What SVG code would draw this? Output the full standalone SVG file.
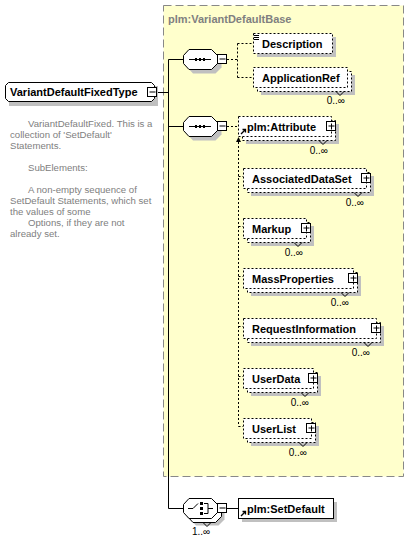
<svg xmlns="http://www.w3.org/2000/svg" width="409" height="540" viewBox="0 0 409 540">
<style>
.sh{fill:#c0c0c0}
.box{fill:#fff;stroke:#000;stroke-width:1}
.dbox{fill:#fff;stroke:#000;stroke-width:1;stroke-dasharray:2,2}
.ln{fill:none;stroke:#000;stroke-width:1}
.dl{fill:none;stroke:#000;stroke-width:1;stroke-dasharray:2,2}
.lbl{font-family:"Liberation Sans",Arial,sans-serif;font-size:11px;font-weight:bold;fill:#000}
.occ{font-family:"Liberation Sans",Arial,sans-serif;font-size:10px;fill:#000}
.desc{font-family:"Liberation Sans",Arial,sans-serif;font-size:9.6px;fill:#808080}
.title{font-family:"Liberation Sans",Arial,sans-serif;font-size:11px;font-weight:bold;fill:#808080}
</style>
<defs>
<g id="plus"><rect class="box" x="0.5" y="0.5" width="9" height="9"/><path class="ln" d="M2.5 5H8.5M5.5 2.5V8.5"/></g>
<g id="minus"><rect class="box" x="0.5" y="0.5" width="9" height="9"/><path class="ln" d="M2.5 5H8.5"/></g>
<path id="ref" d="M1 6L5 2M2.5 1.5H5.5V4.5" fill="none" stroke="#000" stroke-width="1.3"/>
<path id="oct" d="M6 0.5H28.5L34.5 6.5V14.5L28.5 20.5H6L0.5 14.5V6.5Z"/>
</defs>

<g id="base-group">
<rect x="163.5" y="5.5" width="240" height="471" fill="#ffffcc" stroke="#888" stroke-dasharray="8,4"/>
<text class="title" x="168" y="23">plm:VariantDefaultBase</text>
</g>

<g id="connectors">
<path class="ln" d="M157 92.5H168.5M168.5 59.5V508.5M168.5 59.5H183M168.5 126.5H183M168.5 508.5H183"/>
<path class="dl" d="M227 59.5H237.5M237.5 43.5V77.5M237.5 43.5H253M237.5 77.5H253"/>
<path class="dl" d="M227 126.5H238"/>
<path class="dl" d="M238.5 142V426.5M238.5 176.5H243M238.5 226.5H243M238.5 276.5H243M238.5 326.5H243M238.5 376.5H243M238.5 426.5H243"/>
<path d="M238.5 137L236 142H241Z" fill="#000"/>
<path class="ln" d="M227 508.5H238"/>
</g>

<g id="root">
<path class="sh" d="M12 86H158V106H9V89Z"/>
<path class="box" d="M8.5 82.5H151.5L154.5 85.5V98.5L151.5 101.5H8.5L5.5 98.5V85.5Z"/>
<text class="lbl" x="10" y="96">VariantDefaultFixedType</text>
<use href="#minus" x="147" y="87"/>
</g>

<g id="description-text">
<text class="desc" x="28" y="127">VariantDefaultFixed. This is a</text>
<text class="desc" x="10" y="138">collection of 'SetDefault'</text>
<text class="desc" x="10" y="149">Statements.</text>
<text class="desc" x="28" y="171">SubElements:</text>
<text class="desc" x="28" y="193">A non-empty sequence of</text>
<text class="desc" x="10" y="204">SetDefault Statements, which set</text>
<text class="desc" x="10" y="215">the values of some</text>
<text class="desc" x="28" y="226">Options, if they are not</text>
<text class="desc" x="10" y="237">already set.</text>
</g>

<g id="seq1">
<use href="#oct" class="sh" x="187" y="53"/>
<use href="#oct" class="box" x="183" y="49"/>
<path class="ln" d="M189 59.5H211"/>
<path d="M195 58h2v3h-2zM199 58h2v3h-2zM203 58h2v3h-2z" fill="#000"/>
<use href="#minus" x="217" y="54"/>
</g>

<g id="seq2">
<use href="#oct" class="sh" x="187" y="120"/>
<use href="#oct" class="box" x="183" y="116"/>
<path class="ln" d="M189 126.5H211"/>
<path d="M195 125h2v3h-2zM199 125h2v3h-2zM203 125h2v3h-2z" fill="#000"/>
<use href="#minus" x="217" y="121"/>
</g>

<g id="Description">
<rect class="sh" x="257" y="37" width="79" height="20"/>
<rect class="dbox" x="253.5" y="33.5" width="79" height="20"/>
<path class="ln" d="M254 35.5H259M254 37.5H259M254 39.5H259"/>
<text class="lbl" x="262" y="48">Description</text>
</g>

<g id="ApplicationRef">
<rect class="sh" x="261" y="75" width="94" height="20"/>
<rect class="dbox" x="257.5" y="71.5" width="94" height="20"/>
<rect class="dbox" x="253.5" y="67.5" width="94" height="20"/>
<path class="ln" d="M336 91.5L340 95.5L344 91.5"/>
<text class="lbl" x="262" y="82">ApplicationRef</text>
<text class="occ" x="345" y="104" text-anchor="end">0..∞</text>
</g>

<g id="Attribute">
<rect class="sh" x="246" y="124" width="93" height="20"/>
<rect class="dbox" x="242.5" y="120.5" width="93" height="20"/>
<rect class="dbox" x="238.5" y="116.5" width="93" height="20"/>
<path class="ln" d="M319 140.5L323 144.5L327 140.5"/>
<use href="#ref" x="240" y="128"/>
<text class="lbl" x="247" y="131">plm:Attribute</text>
<use href="#plus" x="326" y="121"/>
<text class="occ" x="328" y="154" text-anchor="end">0..∞</text>
</g>

<g id="AssociatedDataSet">
<rect class="sh" x="251" y="176" width="123" height="20"/>
<rect class="dbox" x="247.5" y="172.5" width="123" height="20"/>
<rect class="dbox" x="243.5" y="168.5" width="123" height="20"/>
<path class="ln" d="M354 192.5L358 196.5L362 192.5"/>
<text class="lbl" x="252" y="183">AssociatedDataSet</text>
<use href="#plus" x="361" y="173"/>
<text class="occ" x="364" y="206" text-anchor="end">0..∞</text>
</g>

<g id="Markup">
<rect class="sh" x="251" y="226" width="63" height="20"/>
<rect class="dbox" x="247.5" y="222.5" width="63" height="20"/>
<rect class="dbox" x="243.5" y="218.5" width="63" height="20"/>
<path class="ln" d="M294 242.5L298 246.5L302 242.5"/>
<text class="lbl" x="252" y="233">Markup</text>
<use href="#plus" x="301" y="223"/>
<text class="occ" x="303" y="256" text-anchor="end">0..∞</text>
</g>

<g id="MassProperties">
<rect class="sh" x="251" y="276" width="110" height="20"/>
<rect class="dbox" x="247.5" y="272.5" width="110" height="20"/>
<rect class="dbox" x="243.5" y="268.5" width="110" height="20"/>
<path class="ln" d="M341 292.5L345 296.5L349 292.5"/>
<text class="lbl" x="252" y="283">MassProperties</text>
<use href="#plus" x="348" y="273"/>
<text class="occ" x="349" y="306" text-anchor="end">0..∞</text>
</g>

<g id="RequestInformation">
<rect class="sh" x="251" y="326" width="133" height="20"/>
<rect class="dbox" x="247.5" y="322.5" width="133" height="20"/>
<rect class="dbox" x="243.5" y="318.5" width="133" height="20"/>
<path class="ln" d="M364 342.5L368 346.5L372 342.5"/>
<text class="lbl" x="252" y="333">RequestInformation</text>
<use href="#plus" x="371" y="323"/>
<text class="occ" x="370" y="356" text-anchor="end">0..∞</text>
</g>

<g id="UserData">
<rect class="sh" x="251" y="376" width="70" height="20"/>
<rect class="dbox" x="247.5" y="372.5" width="70" height="20"/>
<rect class="dbox" x="243.5" y="368.5" width="70" height="20"/>
<path class="ln" d="M301 392.5L305 396.5L309 392.5"/>
<text class="lbl" x="252" y="383">UserData</text>
<use href="#plus" x="308" y="373"/>
<text class="occ" x="309" y="406" text-anchor="end">0..∞</text>
</g>

<g id="UserList">
<rect class="sh" x="251" y="426" width="68" height="20"/>
<rect class="dbox" x="247.5" y="422.5" width="68" height="20"/>
<rect class="dbox" x="243.5" y="418.5" width="68" height="20"/>
<path class="ln" d="M299 442.5L303 446.5L307 442.5"/>
<text class="lbl" x="252" y="433">UserList</text>
<use href="#plus" x="306" y="423"/>
<text class="occ" x="307" y="456" text-anchor="end">0..∞</text>
</g>

<g id="choice">
<use href="#oct" class="sh" x="190" y="505"/>
<use href="#oct" class="box" x="187" y="502"/>
<use href="#oct" class="box" x="183" y="498"/>
<path class="ln" d="M203 522.5L207 526.5L211 522.5"/>
<path class="ln" d="M188 508.5H193L198 503.5M204 503.5H208V513.5H204M208 508.5H213"/>
<path d="M200 502h3v3h-3zM200 507h3v3h-3zM200 512h3v3h-3z" fill="#000"/>
<use href="#minus" x="217" y="503"/>
<text class="occ" x="192" y="535">1..∞</text>
</g>

<g id="SetDefault">
<rect class="sh" x="242" y="502" width="95" height="20"/>
<rect class="box" x="238.5" y="498.5" width="95" height="20"/>
<use href="#ref" x="240" y="510"/>
<text class="lbl" x="247" y="513">plm:SetDefault</text>
</g>
</svg>
